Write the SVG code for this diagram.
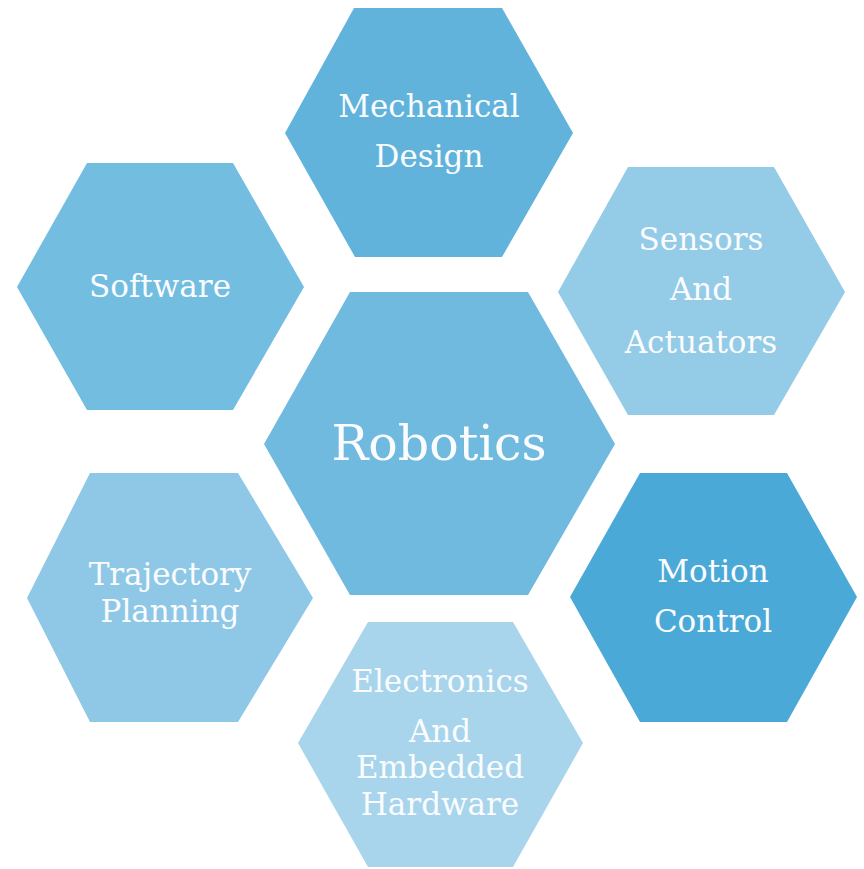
<svg xmlns="http://www.w3.org/2000/svg" width="864" height="869" viewBox="0 0 864 869">
<style>
.lbl{font-family:"DejaVu Serif","Liberation Serif",serif;font-size:31px;fill:#FAFCFE;text-anchor:middle}
.big{font-size:49px}
</style>
<rect width="864" height="869" fill="#FFFFFF"/>
<g id="connectors"></g>
<g id="mechanical-design">
<polygon points="354,8 502,8 573,133 502,257 355,257 285,133" fill="#61B3DC"/>
<text class="lbl" x="429" y="117">Mechanical</text>
<text class="lbl" x="429" y="167">Design</text>
</g>
<g id="software">
<polygon points="87,163 233,163 304,287 233,410 87,410 17,287" fill="#72BDE0"/>
<text class="lbl" x="160" y="297">Software</text>
</g>
<g id="sensors-and-actuators">
<polygon points="628,167 774,167 845,292 774,415 628,415 558,292" fill="#94CBE7"/>
<text class="lbl" x="701" y="250">Sensors</text>
<text class="lbl" x="701" y="300">And</text>
<text class="lbl" x="701" y="353">Actuators</text>
</g>
<g id="robotics">
<polygon points="350,292 528,292 615,444 528,595 350,595 264,444" fill="#70B9DF"/>
<text class="lbl big" x="439" y="460">Robotics</text>
</g>
<g id="trajectory-planning">
<polygon points="90,473 238,473 313,598 238,722 90,722 27,598" fill="#8FC8E6"/>
<text class="lbl" x="170" y="585">Trajectory</text>
<text class="lbl" x="170" y="622">Planning</text>
</g>
<g id="motion-control">
<polygon points="640,473 787,473 857,597 787,722 640,722 570,597" fill="#4AA9D7"/>
<text class="lbl" x="713" y="582">Motion</text>
<text class="lbl" x="713" y="632">Control</text>
</g>
<g id="electronics-and-embedded-hardware">
<polygon points="368,622 513,622 583,743 513,867 368,867 298,743" fill="#A8D5EC"/>
<text class="lbl" x="440" y="692">Electronics</text>
<text class="lbl" x="440" y="742">And</text>
<text class="lbl" x="440" y="778">Embedded</text>
<text class="lbl" x="440" y="815">Hardware</text>
</g>
</svg>
